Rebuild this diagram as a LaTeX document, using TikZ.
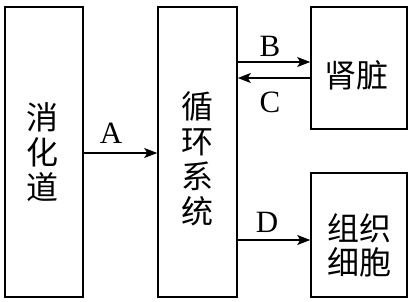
\documentclass[tikz,border=0pt]{standalone}
\usepackage{fontspec}
\setmainfont{Liberation Serif}
\newfontfamily\cjk{Noto Sans CJK SC}
\usetikzlibrary{arrows.meta}
\begin{document}
\begin{tikzpicture}[x=1pt,y=-1pt,
  blk/.style={draw,line width=1.6pt,inner sep=0pt},
  con/.style={line width=1.6pt,-{Stealth[length=13pt,width=10pt,inset=3pt]}},
  zh/.style={font=\cjk\fontsize{32}{35}\selectfont,align=center,inner sep=0pt},
  lbl/.style={font=\fontsize{31}{32}\selectfont,inner sep=0pt}]
\useasboundingbox (0,0) rectangle (412,302);
\node[blk,minimum width=78pt,minimum height=290pt] (dig) at (44,152) {};
\node[blk,minimum width=79pt,minimum height=290pt] (circ) at (197.5,152) {};
\node[blk,minimum width=96pt,minimum height=122pt] (kid) at (359,68) {};
\node[blk,minimum width=96pt,minimum height=124pt] (tis) at (359,235) {};
\node[zh] (tdig) at (42,152) {消\\化\\道};
\node[zh] (tcirc) at (197,159) {循\\环\\系\\统};
\node[zh] (tkid) at (356,75) {肾脏};
\node[zh,font=\cjk\fontsize{32}{34}\selectfont] (ttis) at (359,245) {组织\\细胞};
\coordinate (a1) at (dig.east |- 0,153);
\coordinate (a2) at (circ.west |- 0,153);
\draw[con] (a1) -- (a2);
\coordinate (b1) at (circ.east |- 0,62);
\coordinate (b2) at (kid.west |- 0,62);
\draw[con] (b1) -- (b2);
\coordinate (c1) at (kid.west |- 0,78);
\coordinate (c2) at (circ.east |- 0,78);
\draw[con] (c1) -- (c2);
\coordinate (d1) at (circ.east |- 0,240);
\coordinate (d2) at (tis.west |- 0,240);
\draw[con] (d1) -- (d2);
\node[lbl] (la) at (111,133) {A};
\node[lbl] (lb) at (270,46) {B};
\node[lbl] (lc) at (270,102) {C};
\node[lbl] (ld) at (267,222) {D};
\end{tikzpicture}
\end{document}
